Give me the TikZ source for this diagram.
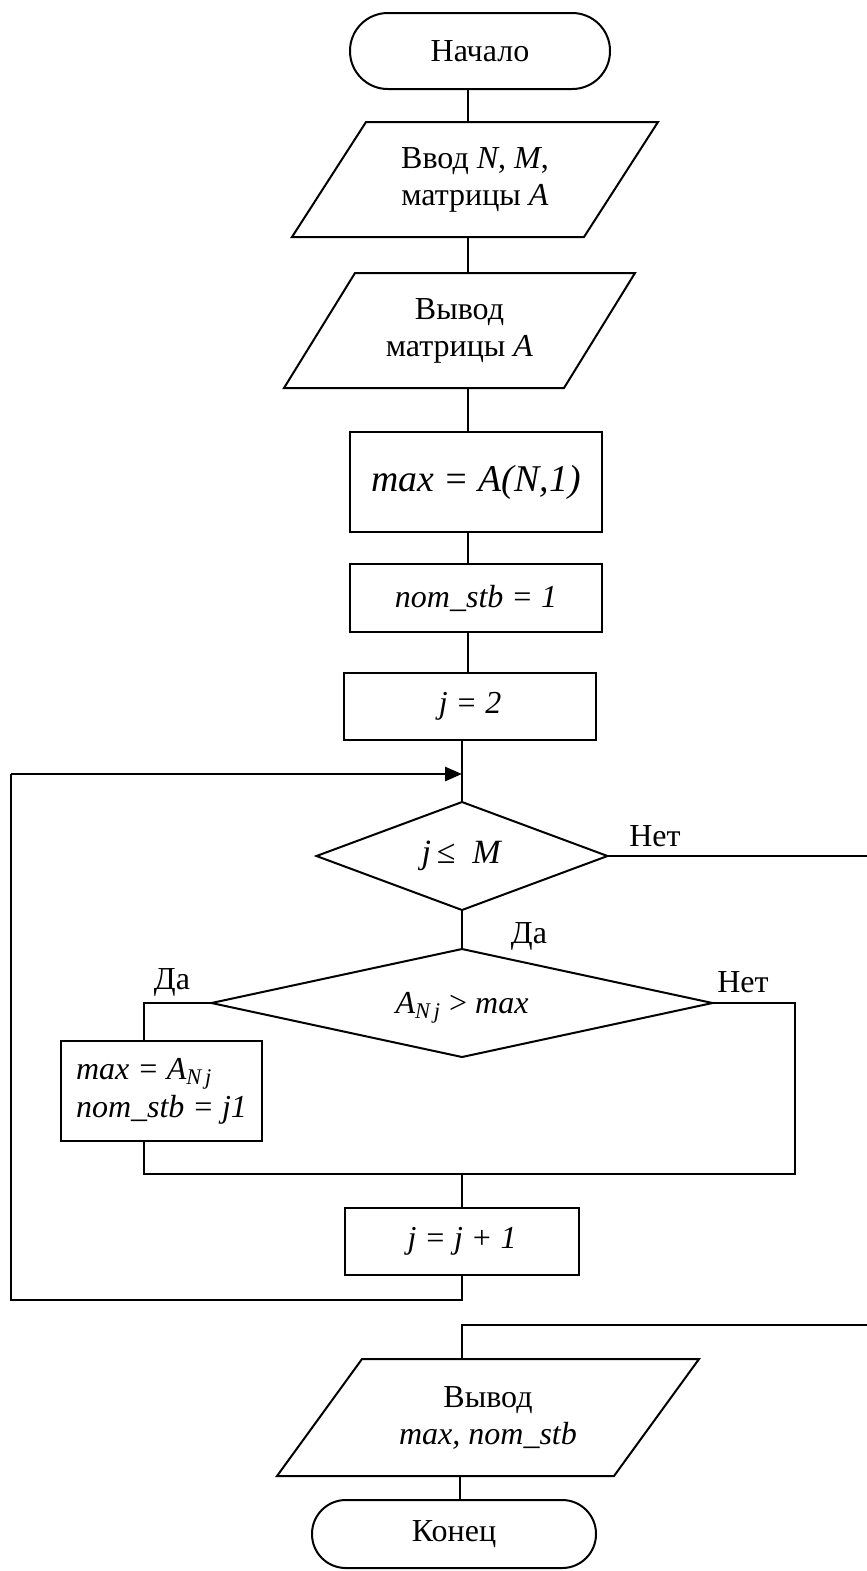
\documentclass[tikz,border=0pt]{standalone}
\usepackage{fontspec}
\setmainfont{Liberation Serif}
\usetikzlibrary{shapes.geometric,arrows.meta,calc}
\begin{document}
\begin{tikzpicture}[x=0.5pt,y=-0.5pt,
  every node/.style={inner sep=0pt, outer sep=0pt, font=\fontsize{16}{18.5}\selectfont},
  ln/.style={line width=1pt},
  loopln/.style={line width=1.4pt},
  shp/.style={draw, line width=1pt, align=center},
  term/.style={shp, rectangle},
  proc/.style={shp, rectangle},
  iotext/.style={rectangle, align=center},
  dec/.style={shp, diamond, shape aspect=2.7},
  lbl/.style={anchor=base}]
\useasboundingbox (0,0) rectangle (867,1571);

% axes
\coordinate (ax1) at (468,0);
\coordinate (ax2) at (462,0);
\coordinate (ax3) at (460,0);
\coordinate (lx2) at (144,0);

% nodes
\node[term, rounded corners=18.9pt, minimum width=130pt, minimum height=38pt] (start) at (480,51) {Начало};
\node[iotext, minimum width=146pt, minimum height=57.5pt] (in1) at (475,179.5)
  {Ввод \textit{N}, \textit{M},\\матрицы \textit{A}};
\draw[ln] ($(in1.north west)+(37,0)$) -- ($(in1.north east)+(37,0)$) -- ($(in1.south east)-(37,0)$) -- ($(in1.south west)-(37,0)$) -- cycle;
\node[iotext, minimum width=140pt, minimum height=57.5pt] (out1) at (459.5,330.5)
  {Вывод\\матрицы \textit{A}};
\draw[ln] ($(out1.north west)+(35.5,0)$) -- ($(out1.north east)+(35.5,0)$) -- ($(out1.south east)-(35.5,0)$) -- ($(out1.south west)-(35.5,0)$) -- cycle;
\node[proc, minimum width=126pt, minimum height=50pt, font=\fontsize{18.9}{22}\selectfont\itshape] (maxbox) at (476,482) {max = A(N,1)};
\node[proc, minimum width=126pt, minimum height=34pt, font=\fontsize{16}{18.5}\selectfont\itshape] (nombox) at (476,598) {nom\_stb = 1};
\node[proc, minimum width=126pt, minimum height=33.5pt, font=\fontsize{16}{18.5}\selectfont\itshape] (jbox) at (470,706.5) {j = 2};
\node[dec, minimum width=145.5pt, minimum height=54pt, font=\fontsize{17}{18.5}\selectfont] (d1) at (462,856) {\textit{j}\,≤\enspace\textit{M}};
\node[dec, minimum width=250.5pt, minimum height=54pt] (d2) at (462,1003)
  {\raisebox{-2.5pt}[\height][\depth]{\textit{A}\textsubscript{\textit{N\,j}} > \textit{max}}};
\node[proc, minimum width=100.5pt, minimum height=50pt, align=left, font=\fontsize{16}{19}\selectfont\itshape] (setbox) at (161.5,1091)
  {max = A\textsubscript{N\,j}\\nom\_stb = j1};
\node[proc, minimum width=117pt, minimum height=33.5pt, font=\fontsize{16}{18.5}\selectfont\itshape] (incbox) at (462,1241.5) {j = j + 1};
\node[iotext, minimum width=168.5pt, minimum height=58.5pt] (out2) at (488,1417.5)
  {Вывод\\\textit{max, nom\_stb}};
\draw[ln] ($(out2.north west)+(42.5,0)$) -- ($(out2.north east)+(42.5,0)$) -- ($(out2.south east)-(42.5,0)$) -- ($(out2.south west)-(42.5,0)$) -- cycle;
\node[term, rounded corners=16.9pt, minimum width=142pt, minimum height=34pt] (end) at (454,1534) {Конец};

% labels
\node[lbl] (no1) at (655,846) {Нет};
\node[lbl] (yes1) at (529,943) {Да};
\node[lbl] (yes2) at (172,989) {Да};
\node[lbl] (no2) at (743,992) {Нет};

% connector coordinates
\coordinate (re1) at (867,856);
\coordinate (re2) at (867,1325);
\coordinate (la) at (11,1300);
\coordinate (lt) at (11,774);
\coordinate (tip) at (462,774);
\coordinate (mL) at (144,1174);
\coordinate (mR) at (795,1174);

% connectors
\draw[ln] (start.south -| ax1) -- (in1.north -| ax1);
\draw[ln] (in1.south -| ax1) -- (out1.north -| ax1);
\draw[ln] (out1.south -| ax1) -- (maxbox.north -| ax1);
\draw[ln] (maxbox.south -| ax1) -- (nombox.north -| ax1);
\draw[ln] (nombox.south -| ax1) -- (jbox.north -| ax1);
\draw[ln] (jbox.south -| ax2) -- (d1.north);
\draw[ln] (d1.south) -- (d2.north);
\draw[ln] (d1.east) -- (re1);
\draw[ln] (d2.west) -| (setbox.north -| lx2);
\draw[ln] (setbox.south -| lx2) -- (mL) -- (mR) |- (d2.east);
\draw[ln] (mL -| ax2) -- (incbox.north -| ax2);
\draw[loopln] (incbox.south -| ax2) |- (la) -- (lt);
\draw[loopln, -{Triangle[length=8.5pt,width=7pt]}] (lt) -- (tip);
\draw[ln] (re2) -| (out2.north -| ax2);
\draw[ln] (out2.south -| ax3) -- (end.north -| ax3);
\end{tikzpicture}
\end{document}
